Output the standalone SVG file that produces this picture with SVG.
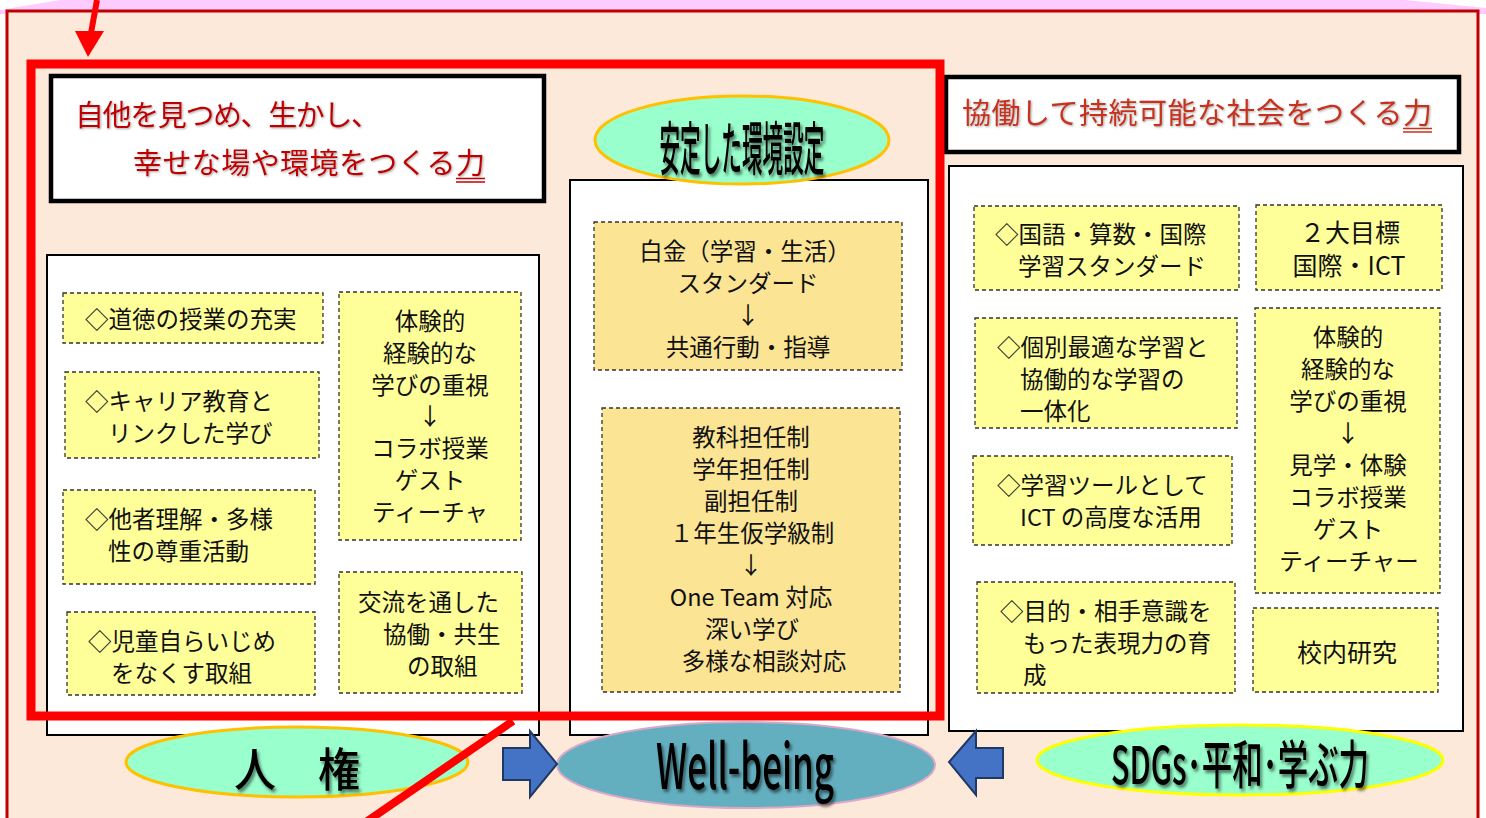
<svg xmlns="http://www.w3.org/2000/svg" width="1486" height="818" viewBox="0 0 1486 818">
<defs>
<style>
.yb{fill:#FFFF99;stroke:#333;stroke-width:1.3;stroke-dasharray:4 3}
.tb{fill:#FBE494;stroke:#333;stroke-width:1.3;stroke-dasharray:4 3}
.wb{fill:#fff;stroke:#000;stroke-width:2}
.hb{fill:#fff;stroke:#000;stroke-width:4.5}
.tx{font-family:"Noto Sans CJK JP","Noto Sans",sans-serif;font-size:23.5px;fill:#111}
.c{text-anchor:middle}
.ttl{font-family:"Noto Sans CJK JP","Noto Sans",sans-serif;font-size:29px}
.big{font-family:"Noto Sans CJK JP","Noto Sans",sans-serif;font-weight:500;fill:#000;text-anchor:middle}
.ell{fill:#99FFCC;stroke:#FFC000;stroke-width:3}
.arr{fill:#4472C4;stroke:#1F3864;stroke-width:2}
</style>
<filter id="sh" x="-10%" y="-30%" width="125%" height="170%"><feDropShadow dx="2" dy="3" stdDeviation="1.8" flood-color="#000" flood-opacity="0.5"/></filter>
<filter id="sh2" x="-5%" y="-20%" width="110%" height="150%"><feDropShadow dx="1" dy="1" stdDeviation="1" flood-color="#666" flood-opacity="0.6"/></filter>
</defs>

<!-- background -->
<rect x="0" y="0" width="1486" height="818" fill="#fff"/>
<polygon points="0,10 60,0 1405,0 1486,8 1486,14 0,14" fill="#FFCCFF"/>
<rect x="7" y="11" width="1471" height="820" fill="#FDE9DA" stroke="#C00000" stroke-width="3"/>

<!-- left header -->
<g id="left-title">
<rect class="hb" x="51" y="76" width="493" height="125"/>
<text class="ttl" x="75" y="126" textLength="305" fill="#C00000" filter="url(#sh2)">自他を見つめ、生かし、</text>
<text class="ttl" x="133" y="174" textLength="352" fill="#C00000" filter="url(#sh2)">幸せな場や環境をつくる力</text>
<line x1="456" y1="178.5" x2="485" y2="178.5" stroke="#C00000" stroke-width="1.5"/>
<line x1="456" y1="182" x2="485" y2="182" stroke="#C00000" stroke-width="1.5"/>
</g>

<!-- left panel -->
<g id="left-panel">
<rect class="wb" x="47" y="255" width="492" height="480"/>
</g>
<g id="l1"><rect class="yb" x="63" y="293" width="260" height="50"/>
<text class="tx" x="85" y="318" dominant-baseline="central">◇道徳の授業の充実</text></g>
<g id="l2"><rect class="yb" x="65" y="372" width="254" height="86"/>
<text class="tx" x="85" y="400" dominant-baseline="central">◇キャリア教育と</text>
<text class="tx" x="108" y="432" dominant-baseline="central">リンクした学び</text></g>
<g id="l3"><rect class="yb" x="63" y="490" width="252" height="94"/>
<text class="tx" x="85" y="518" dominant-baseline="central">◇他者理解・多様</text>
<text class="tx" x="108" y="550" dominant-baseline="central">性の尊重活動</text></g>
<g id="l4"><rect class="yb" x="67" y="612" width="248" height="83"/>
<text class="tx" x="88" y="640" dominant-baseline="central">◇児童自らいじめ</text>
<text class="tx" x="111" y="672" dominant-baseline="central">をなくす取組</text></g>
<g id="l5"><rect class="yb" x="339" y="292" width="182" height="248"/>
<text class="tx c" x="430" y="320" dominant-baseline="central">体験的</text>
<text class="tx c" x="430" y="352" dominant-baseline="central">経験的な</text>
<text class="tx c" x="430" y="384" dominant-baseline="central">学びの重視</text>
<text class="tx c" x="430" y="415" dominant-baseline="central">↓</text>
<text class="tx c" x="430" y="447" dominant-baseline="central">コラボ授業</text>
<text class="tx c" x="430" y="479" dominant-baseline="central">ゲスト</text>
<text class="tx c" x="430" y="511" dominant-baseline="central">ティーチャ</text></g>
<g id="l6"><rect class="yb" x="339" y="572" width="183" height="121"/>
<text class="tx" x="358" y="601" dominant-baseline="central">交流を通した</text>
<text class="tx" x="383" y="633" dominant-baseline="central">協働・共生</text>
<text class="tx" x="407" y="665" dominant-baseline="central">の取組</text></g>

<!-- center panel -->
<g id="center-panel">
<rect class="wb" x="570" y="180" width="358" height="555"/>
</g>
<g id="c1"><rect class="tb" x="594" y="222" width="308" height="148"/>
<text class="tx c" x="745" y="250" dominant-baseline="central">白金（学習・生活）</text>
<text class="tx c" x="748" y="282" dominant-baseline="central">スタンダード</text>
<text class="tx c" x="748" y="314" dominant-baseline="central">↓</text>
<text class="tx c" x="748" y="346" dominant-baseline="central">共通行動・指導</text></g>
<g id="c2"><rect class="tb" x="602" y="408" width="298" height="284"/>
<text class="tx c" x="751" y="436" dominant-baseline="central">教科担任制</text>
<text class="tx c" x="751" y="468" dominant-baseline="central">学年担任制</text>
<text class="tx c" x="751" y="500" dominant-baseline="central">副担任制</text>
<text class="tx c" x="752" y="532" dominant-baseline="central">１年生仮学級制</text>
<text class="tx c" x="751" y="564" dominant-baseline="central">↓</text>
<text class="tx c" x="751" y="596" dominant-baseline="central">One Team 対応</text>
<text class="tx c" x="752" y="628" dominant-baseline="central">深い学び</text>
<text class="tx c" x="764" y="660" dominant-baseline="central">多様な相談対応</text></g>
<g id="center-title">
<ellipse class="ell" cx="742" cy="140" rx="147" ry="44"/>
<text class="big" x="742" y="170" font-size="58" textLength="165" lengthAdjust="spacingAndGlyphs" filter="url(#sh)">安定した環境設定</text>
</g>

<!-- right header -->
<g id="right-title">
<rect class="hb" x="946" y="77" width="513" height="75"/>
<text class="ttl" x="962" y="124" textLength="470" fill="#C8321A" filter="url(#sh2)">協働して持続可能な社会をつくる力</text>
<line x1="1403" y1="128.5" x2="1432" y2="128.5" stroke="#C8321A" stroke-width="1.5"/>
<line x1="1403" y1="132" x2="1432" y2="132" stroke="#C8321A" stroke-width="1.5"/>
</g>

<!-- right panel -->
<g id="right-panel">
<rect class="wb" x="949" y="166" width="514" height="565"/>
</g>
<g id="r1"><rect class="yb" x="974" y="206" width="265" height="84"/>
<text class="tx" x="995" y="233" dominant-baseline="central">◇国語・算数・国際</text>
<text class="tx" x="1018" y="265" dominant-baseline="central">学習スタンダード</text></g>
<g id="r2"><rect class="yb" x="1256" y="205" width="186" height="85"/>
<text class="tx c" x="1350" y="231" dominant-baseline="central" style="font-size:25px">２大目標</text>
<text class="tx c" x="1349" y="264" dominant-baseline="central" style="font-size:25px">国際・ICT</text></g>
<g id="r3"><rect class="yb" x="975" y="318" width="262" height="110"/>
<text class="tx" x="997" y="346" dominant-baseline="central">◇個別最適な学習と</text>
<text class="tx" x="1020" y="378" dominant-baseline="central">協働的な学習の</text>
<text class="tx" x="1020" y="410" dominant-baseline="central">一体化</text></g>
<g id="r4"><rect class="yb" x="1255" y="308" width="185" height="285"/>
<text class="tx c" x="1348" y="336" dominant-baseline="central">体験的</text>
<text class="tx c" x="1348" y="368" dominant-baseline="central">経験的な</text>
<text class="tx c" x="1348" y="400" dominant-baseline="central">学びの重視</text>
<text class="tx c" x="1348" y="432" dominant-baseline="central">↓</text>
<text class="tx c" x="1348" y="464" dominant-baseline="central">見学・体験</text>
<text class="tx c" x="1348" y="496" dominant-baseline="central">コラボ授業</text>
<text class="tx c" x="1348" y="528" dominant-baseline="central">ゲスト</text>
<text class="tx c" x="1349" y="560" dominant-baseline="central">ティーチャー</text></g>
<g id="r5"><rect class="yb" x="973" y="456" width="259" height="89"/>
<text class="tx" x="997" y="484" dominant-baseline="central">◇学習ツールとして</text>
<text class="tx" x="1020" y="516" dominant-baseline="central">ICT の高度な活用</text></g>
<g id="r6"><rect class="yb" x="977" y="582" width="258" height="111"/>
<text class="tx" x="1000" y="610" dominant-baseline="central">◇目的・相手意識を</text>
<text class="tx" x="1023" y="642" dominant-baseline="central">もった表現力の育</text>
<text class="tx" x="1023" y="674" dominant-baseline="central">成</text></g>
<g id="r7"><rect class="yb" x="1253" y="608" width="185" height="84"/>
<text class="tx c" x="1347" y="651" dominant-baseline="central" style="font-size:25px">校内研究</text></g>

<!-- bottom ellipses -->
<g id="jinken">
<ellipse class="ell" cx="297" cy="762" rx="171" ry="35"/>
<text class="big" x="297" y="786" font-size="46" textLength="126" lengthAdjust="spacingAndGlyphs" filter="url(#sh)">人　権</text>
</g>
<g id="wellbeing">
<ellipse cx="746" cy="765" rx="189" ry="43" fill="#63AFBF" stroke="#D8A8C8" stroke-width="2"/>
<text class="big" x="745" y="789" font-size="62" textLength="178" lengthAdjust="spacingAndGlyphs" filter="url(#sh)">Well-being</text>
</g>
<g id="sdgs">
<ellipse cx="1240" cy="760" rx="203" ry="35" fill="#99FFCC" stroke="#FFFF00" stroke-width="3"/>
<text class="big" x="1240" y="784" font-size="52" textLength="258" lengthAdjust="spacingAndGlyphs" filter="url(#sh)">SDGs･平和･学ぶ力</text>
</g>

<!-- connectors -->
<g id="connectors">
<rect x="31" y="64" width="909" height="652" fill="none" stroke="#FF0000" stroke-width="9"/>
<line x1="513" y1="721" x2="366" y2="822" stroke="#FF0000" stroke-width="8"/>
<line x1="97" y1="0" x2="91" y2="33" stroke="#FF0000" stroke-width="6"/>
<polygon points="75,31 104,31 88,57" fill="#FF0000"/>
<polygon class="arr" points="503,748 530,748 530,731 557,764 530,797 530,780 503,780"/>
<polygon class="arr" points="1003,748 976,748 976,731 949,762 976,795 976,778 1003,778"/>
</g>
</svg>
